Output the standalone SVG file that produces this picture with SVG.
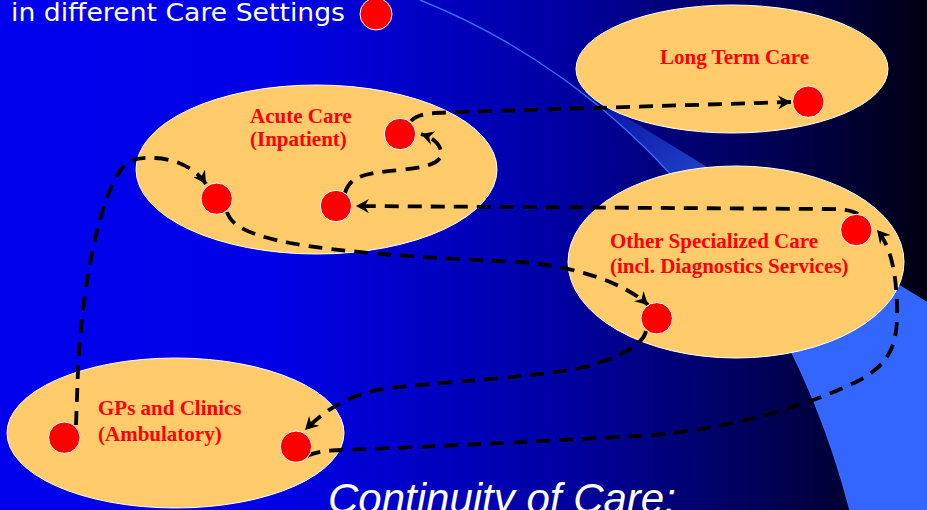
<svg xmlns="http://www.w3.org/2000/svg" width="927" height="510" viewBox="0 0 927 510">
  <defs>
    <linearGradient id="bg" x1="0" y1="0" x2="927" y2="0" gradientUnits="userSpaceOnUse">
      <stop offset="0" stop-color="#0000ee"/>
      <stop offset="0.3" stop-color="#0000e6"/>
      <stop offset="0.6" stop-color="#0000a4"/>
      <stop offset="0.82" stop-color="#000058"/>
      <stop offset="1" stop-color="#000012"/>
    </linearGradient>
    <linearGradient id="swoosh" x1="560" y1="78" x2="800" y2="300" gradientUnits="userSpaceOnUse">
      <stop offset="0" stop-color="#3366ff" stop-opacity="0.05"/>
      <stop offset="0.5" stop-color="#3366ff" stop-opacity="0.6"/>
      <stop offset="1" stop-color="#3366ff" stop-opacity="1"/>
    </linearGradient>
    <marker id="arrow" viewBox="0 0 12 12" markerWidth="14" markerHeight="14" markerUnits="userSpaceOnUse" refX="11" refY="6" orient="auto">
      <path d="M0,0 L11,6 L0,12 L3.5,6 Z" fill="#000"/>
    </marker>
    <style>
      .setting { fill: #ffcb6b; stroke: #ffffff; stroke-width: 1; }
      .dot { fill: #ff0000; stroke: #ffffff; stroke-width: 1; }
      .label { font-family: "Liberation Serif", "Times New Roman", serif; font-weight: bold; font-size: 21px; fill: #ff0000; }
      .flow { fill: none; stroke: #000; stroke-width: 3.8; stroke-dasharray: 14 9; }
      .title { font-family: "DejaVu Sans", Verdana, sans-serif; fill: #ffffff; }
    </style>
  </defs>

  <!-- backdrop -->
  <rect x="0" y="0" width="927" height="510" fill="url(#bg)"/>
  <path d="M 562.4 78.3 L 935 306.7 L 935 515 L 851 515 L 850 510 C 801.3 322.5 696.3 174.4 562.4 78.3 Z" fill="url(#swoosh)"/>
  <path d="M 420 0 C 620 80 785 260 850 510" fill="none" stroke="#3a6cff" stroke-width="1.4"/>

  <!-- headings -->
  <text class="title" x="11" y="21" font-size="25" textLength="334" lengthAdjust="spacingAndGlyphs">in different Care Settings</text>
  <circle class="dot" cx="376" cy="14" r="16"/>
  <text x="328" y="513" font-family="Liberation Sans, Arial, sans-serif" font-style="italic" font-size="42" fill="#ffffff">Continuity of Care:</text>

  <!-- care settings -->
  <g id="long-term-care">
    <ellipse class="setting" cx="732" cy="69" rx="156" ry="64"/>
    <text class="label" x="734.5" y="64" text-anchor="middle">Long Term Care</text>
  </g>
  <g id="acute-care">
    <ellipse class="setting" cx="316.5" cy="169.5" rx="180.5" ry="84.5"/>
    <text class="label" x="250" y="123">Acute Care</text>
    <text class="label" x="250" y="146">(Inpatient)</text>
  </g>
  <g id="other-specialized-care">
    <ellipse class="setting" cx="736" cy="262" rx="168" ry="96"/>
    <text class="label" x="610" y="248">Other Specialized Care</text>
    <text class="label" x="610" y="272.5">(incl. Diagnostics Services)</text>
  </g>
  <g id="gps-clinics">
    <ellipse class="setting" cx="175.5" cy="433" rx="168.5" ry="75"/>
    <text class="label" x="98" y="415">GPs and Clinics</text>
    <text class="label" x="98" y="440.5">(Ambulatory)</text>
  </g>

  <!-- patient pathway -->
  <g id="connectors">
    <path class="flow" d="M 76 425 L 78 370 C 82 290 98 200 122 168 C 130 159 140 157 155 158 C 178 159 197 170 206 184" marker-end="url(#arrow)"/>
    <path class="flow" d="M 227 212 C 232 228 255 236 290 243 C 340 252 420 258 520 262 C 575 266 625 283 648 305" marker-end="url(#arrow)"/>
    <path class="flow" d="M 646 331 C 643 345 620 358 580 368 C 530 378 450 381 390 388 C 350 393 325 410 305 430" marker-end="url(#arrow)"/>
    <path class="flow" d="M 307 456 Q 320 450 345 450 C 450 446 560 440 640 436 C 730 430 810 405 860 380 C 893 362 898 340 897 305 C 896 270 890 245 877 230" marker-end="url(#arrow)"/>
    <path class="flow" d="M 858 214 C 850 209 840 209 820 209 L 356 206" marker-end="url(#arrow)"/>
    <path class="flow" d="M 345 193 C 350 176 365 173 400 170 C 435 167 445 160 440 148 C 437 141 430 137 421 134" marker-end="url(#arrow)"/>
    <path class="flow" d="M 411 121 C 418 113 430 113 460 112 L 791 102" marker-end="url(#arrow)"/>
  </g>

  <!-- patients -->
  <g id="patients">
    <circle class="dot" cx="808.3" cy="101.7" r="15.7"/>
    <circle class="dot" cx="216.7" cy="198.7" r="15.7"/>
    <circle class="dot" cx="400" cy="134" r="15.7"/>
    <circle class="dot" cx="336" cy="206" r="15.7"/>
    <circle class="dot" cx="856.3" cy="230" r="15.7"/>
    <circle class="dot" cx="656.7" cy="318.3" r="15.7"/>
    <circle class="dot" cx="64.3" cy="437.7" r="15.7"/>
    <circle class="dot" cx="296" cy="446.7" r="15.7"/>
  </g>
</svg>
